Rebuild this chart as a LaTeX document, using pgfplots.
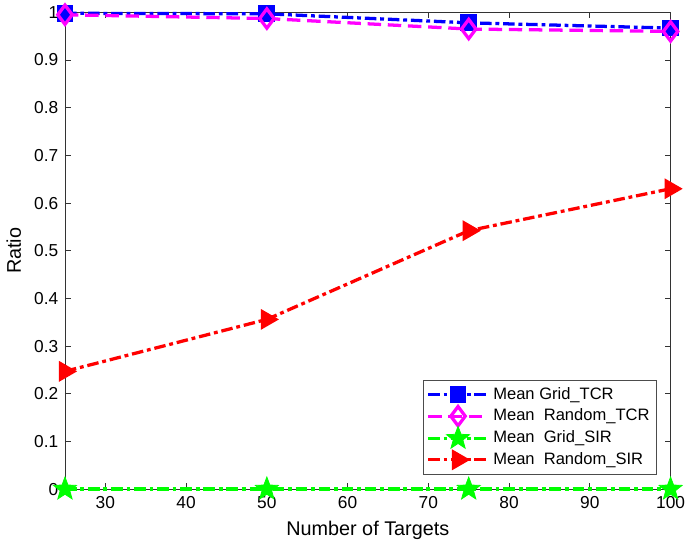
\documentclass[border=0pt]{standalone}
\usepackage{pgfplots}
\pgfplotsset{compat=1.18}
\usepackage{fontspec}
\setmainfont{Liberation Sans}
\definecolor{cblue}{RGB}{0,0,255}
\definecolor{cmag}{RGB}{255,0,255}
\definecolor{cgreen}{RGB}{0,255,0}
\definecolor{cred}{RGB}{255,0,0}
\pgfdeclareplotmark{fstar}{%
  \pgfpathmoveto{\pgfpointpolar{90}{\pgfplotmarksize}}%
  \pgfpathlineto{\pgfpointpolar{126}{0.42\pgfplotmarksize}}%
  \pgfpathlineto{\pgfpointpolar{162}{\pgfplotmarksize}}%
  \pgfpathlineto{\pgfpointpolar{198}{0.42\pgfplotmarksize}}%
  \pgfpathlineto{\pgfpointpolar{234}{\pgfplotmarksize}}%
  \pgfpathlineto{\pgfpointpolar{270}{0.42\pgfplotmarksize}}%
  \pgfpathlineto{\pgfpointpolar{306}{\pgfplotmarksize}}%
  \pgfpathlineto{\pgfpointpolar{342}{0.42\pgfplotmarksize}}%
  \pgfpathlineto{\pgfpointpolar{18}{\pgfplotmarksize}}%
  \pgfpathlineto{\pgfpointpolar{54}{0.42\pgfplotmarksize}}%
  \pgfpathclose
  \pgfusepathqfillstroke}
\begin{document}
\begin{tikzpicture}[x=1pt,y=1pt]
\begin{axis}[
  scale only axis,
  width=315pt, height=248pt,
  xmin=25, xmax=100, ymin=0, ymax=1,
  xtick={30,40,...,100},
  ytick={0,0.1,...,1},
  yticklabels={0,0.1,0.2,0.3,0.4,0.5,0.6,0.7,0.8,0.9,1},
  tick align=inside,
  major tick length=3pt,
  tick style={black!80, thin},
  axis line style={black!80, thin},
  /pgf/number format/assume math mode=true,
  ticklabel style={font=\fontsize{9}{10}\selectfont},
  xticklabel style={inner xsep=0pt},
  xlabel={Number of Targets},
  ylabel={Ratio},
  label style={font=\fontsize{10.3}{12}\selectfont},
  clip=false,
  legend style={at={(0.977,0.031)}, anchor=south east, draw=black!70, font=\fontsize{8.6}{10}\selectfont, row sep=-0.6pt, inner sep=1.5pt},
  legend cell align=left,
  legend image code/.code={\draw[mark repeat=2,mark phase=2] plot coordinates {(0pt,0pt)(15.5pt,0pt)(31pt,0pt)};},
]
\addplot[cblue, line width=1.7pt, dash pattern=on 6pt off 2pt on 2pt off 2pt, mark=square*, mark size=3.5pt, mark options={solid, fill=cblue}] coordinates {(25,0.998) (50,0.997) (75,0.978) (100,0.967)};
\addlegendentry{Mean Grid\_TCR}
\addplot[cmag, line width=1.7pt, dash pattern=on 7pt off 3.5pt, mark=diamond, mark size=5pt, mark options={solid, line width=1.7pt}] coordinates {(25,0.995) (50,0.987) (75,0.965) (100,0.960)};
\addlegendentry{Mean\ \ Random\_TCR}
\addplot[cgreen, line width=1.7pt, dash pattern=on 6pt off 2pt on 2pt off 2pt, mark=fstar, mark size=6.3pt, mark options={solid, fill=cgreen, line width=0.4pt}] coordinates {(25,0) (50,0) (75,0) (100,0)};
\addlegendentry{Mean\ \ Grid\_SIR}
\addplot[cred, line width=1.7pt, dash pattern=on 6pt off 2pt on 2pt off 2pt, mark=triangle*, mark size=4.6pt, mark options={solid, fill=cred, rotate=-90}] coordinates {(25,0.247) (50,0.356) (75,0.542) (100,0.630)};
\addlegendentry{Mean\ \ Random\_SIR}
\end{axis}
\end{tikzpicture}
\end{document}
